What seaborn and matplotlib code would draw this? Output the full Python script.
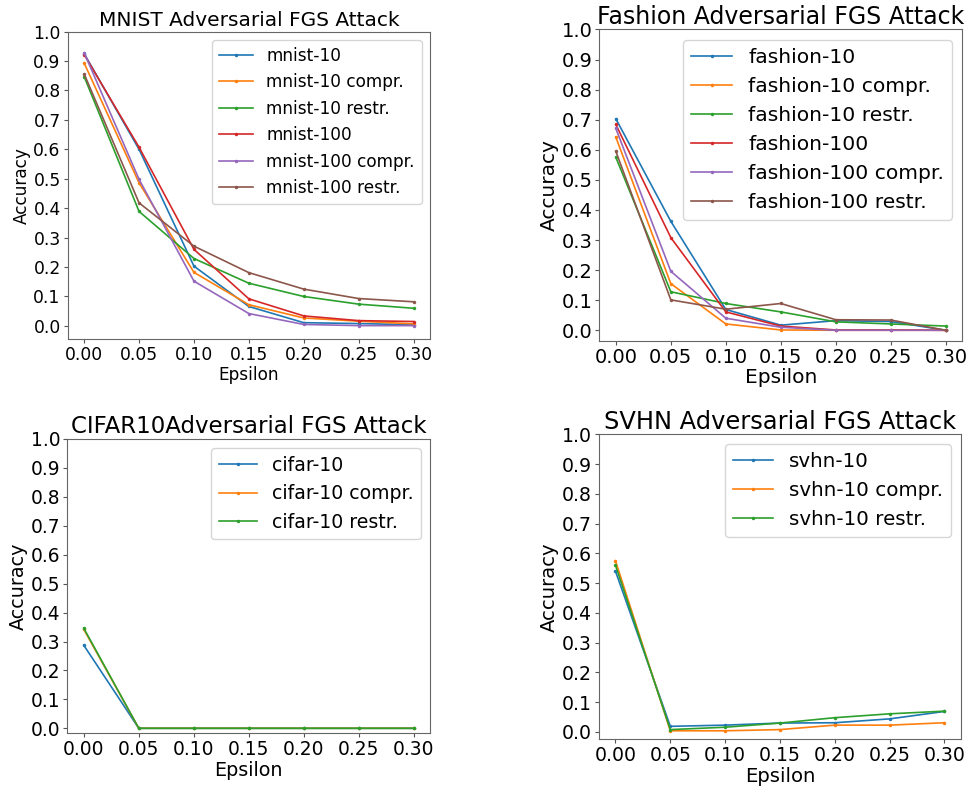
import matplotlib
matplotlib.use("Agg")
import matplotlib.pyplot as plt
import seaborn as sns
import pandas as pd
import numpy as np

eps = [0.0, 0.05, 0.10, 0.15, 0.20, 0.25, 0.30]
yticks = [0.0, 0.1, 0.2, 0.3, 0.4, 0.5, 0.6, 0.7, 0.8, 0.9, 1.0]

# MNIST
mnist_names = ["mnist-10", "mnist-10 compr.", "mnist-10 restr.",
               "mnist-100", "mnist-100 compr.", "mnist-100 restr."]
mnist_10 = [0.925, 0.600, 0.203, 0.066, 0.011, 0.008, 0.004]
mnist_10_compr = [0.893, 0.486, 0.182, 0.072, 0.027, 0.016, 0.007]
mnist_10_restr = [0.847, 0.389, 0.229, 0.145, 0.100, 0.074, 0.060]
mnist_100 = [0.922, 0.607, 0.260, 0.092, 0.034, 0.018, 0.015]
mnist_100_compr = [0.928, 0.498, 0.152, 0.042, 0.005, 0.001, 0.001]
mnist_100_restr = [0.856, 0.418, 0.271, 0.181, 0.125, 0.093, 0.082]

# Fashion
fashion_names = ["fashion-10", "fashion-10 compr.", "fashion-10 restr.",
                 "fashion-100", "fashion-100 compr.", "fashion-100 restr."]
fashion_10 = [0.703, 0.362, 0.069, 0.017, 0.032, 0.029, 0.000]
fashion_10_compr = [0.642, 0.155, 0.021, 0.001, 0.000, 0.000, 0.000]
fashion_10_restr = [0.575, 0.128, 0.089, 0.061, 0.028, 0.021, 0.014]
fashion_100 = [0.684, 0.308, 0.061, 0.014, 0.001, 0.001, 0.000]
fashion_100_compr = [0.671, 0.196, 0.040, 0.010, 0.000, 0.000, 0.000]
fashion_100_restr = [0.595, 0.101, 0.070, 0.089, 0.035, 0.034, 0.000]

# CIFAR10
cifar_names = ["cifar-10", "cifar-10 compr.", "cifar-10 restr."]
cifar_10 = [0.287, 0.0, 0.0, 0.0, 0.0, 0.0, 0.0]
cifar_10_compr = [0.342, 0.0, 0.0, 0.0, 0.0, 0.0, 0.0]
cifar_10_restr = [0.346, 0.0, 0.0, 0.0, 0.0, 0.0, 0.0]

# SVHN
svhn_names = ["svhn-10", "svhn-10 compr.", "svhn-10 restr."]
svhn_10 = [0.540, 0.019, 0.023, 0.030, 0.031, 0.044, 0.069]
svhn_10_compr = [0.575, 0.004, 0.004, 0.008, 0.023, 0.023, 0.031]
svhn_10_restr = [0.560, 0.008, 0.016, 0.030, 0.048, 0.061, 0.070]


def to_long(names, series):
    rows = []
    for n, s in zip(names, series):
        for e, v in zip(eps, s):
            rows.append({"Epsilon": e, "Accuracy": v, "model": n})
    return pd.DataFrame(rows)


panels = [
    ("MNIST Adversarial FGS Attack", mnist_names,
     [mnist_10, mnist_10_compr, mnist_10_restr, mnist_100, mnist_100_compr, mnist_100_restr],
     [0.0692, 0.570, 0.3705, 0.390], dict(title=14.5, label=12.2, tick=12.3, legend=12.2)),
    ("Fashion Adversarial FGS Attack", fashion_names,
     [fashion_10, fashion_10_compr, fashion_10_restr, fashion_100, fashion_100_compr, fashion_100_restr],
     [0.6128, 0.568, 0.3712, 0.3947], dict(title=17, label=14.5, tick=14, legend=14.6)),
    ("CIFAR10Adversarial FGS Attack", cifar_names,
     [cifar_10, cifar_10_compr, cifar_10_restr],
     [0.0688, 0.0706, 0.3712, 0.373], dict(title=16.5, label=13.8, tick=13.4, legend=13.6)),
    ("SVHN Adversarial FGS Attack", svhn_names,
     [svhn_10, svhn_10_compr, svhn_10_restr],
     [0.6125, 0.063, 0.370, 0.3866], dict(title=17.4, label=14.1, tick=13.6, legend=14.3)),
]

fig = plt.figure(figsize=(9.78, 7.89), dpi=100)
palette = sns.color_palette("tab10")

for title, names, series, rect, fs in panels:
    ax = fig.add_axes(rect)
    df = to_long(names, series)
    sns.lineplot(data=df, x="Epsilon", y="Accuracy", hue="model",
                 hue_order=names, palette=palette[:len(names)],
                 marker="o", markersize=2.5, markeredgewidth=0,
                 linewidth=1.2, ax=ax)
    vals = np.concatenate(series)
    lo, hi = vals.min(), vals.max()
    ax.set_ylim(lo - 0.05 * (hi - lo), 1.0)
    ax.set_yticks(yticks)
    ax.set_xticks(eps)
    ax.set_xticklabels([f"{e:.2f}" for e in eps])
    ax.set_title(title, fontsize=fs["title"], pad=4)
    ax.set_xlabel("Epsilon", fontsize=fs["label"], labelpad=1)
    ax.set_ylabel("Accuracy", fontsize=fs["label"], labelpad=2)
    ax.tick_params(labelsize=fs["tick"], color="#555555", length=3, pad=2)
    for sp in ax.spines.values():
        sp.set_color("#666666")
    sns.move_legend(ax, "upper right", title=None, fontsize=fs["legend"], frameon=True)

fig.savefig("out.png", dpi=100)
